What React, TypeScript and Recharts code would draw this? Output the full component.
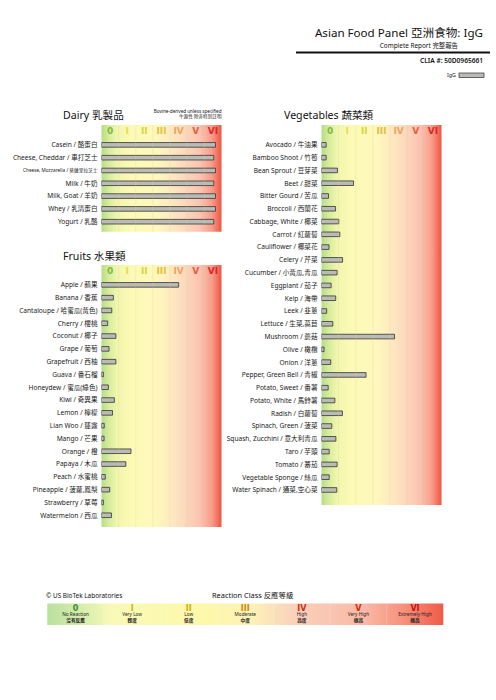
import React from 'react';
import { BarChart, Bar, XAxis, YAxis, ReferenceArea, ReferenceLine } from 'recharts';

const FONT = "'Noto Sans', 'Noto Sans CJK TC', sans-serif";
const NUM_FONT = "'DejaVu Sans', 'Noto Sans', sans-serif";

const classLabels = ['0', 'I', 'II', 'III', 'IV', 'V', 'VI'];
const classColors = ['#7cbc3c', '#e4df4c', '#d8d43e', '#e0c03c', '#eea25e', '#e4603a', '#e02428'];
const classTicks = [0.5, 1.5, 2.5, 3.5, 4.5, 5.5, 6.5];

const legendEnglish = ['No Reaction', 'Very Low', 'Low', 'Moderate', 'High', 'Very High', 'Extremely High'];
const legendChinese = ['沒有反應', '輕度', '低度', '中度', '高度', '極高', '極高'];
const legendNumColors = ['#3a8f1e', '#c9b51c', '#cfae0a', '#d08a0a', '#cf2a12', '#cf2a12', '#c81010'];

const dairyFoods = [
  'Casein / 酪蛋白',
  'Cheese, Cheddar / 車打芝士',
  'Cheese, Mozzarella / 莫薩里拉芝士',
  'Milk / 牛奶',
  'Milk, Goat / 羊奶',
  'Whey / 乳清蛋白',
  'Yogurt / 乳酪',
];
const dairyValues = [6.65, 6.55, 6.65, 6.55, 6.65, 6.65, 6.55];

const fruitFoods = [
  'Apple / 蘋果',
  'Banana / 香蕉',
  'Cantaloupe / 哈蜜瓜(黃色)',
  'Cherry / 櫻桃',
  'Coconut / 椰子',
  'Grape / 葡萄',
  'Grapefruit / 西柚',
  'Guava / 番石榴',
  'Honeydew / 蜜瓜(綠色)',
  'Kiwi / 奇異果',
  'Lemon / 檸檬',
  'Lian Woo / 蓮霧',
  'Mango / 芒果',
  'Orange / 橙',
  'Papaya / 木瓜',
  'Peach / 水蜜桃',
  'Pineapple / 菠蘿,鳳梨',
  'Strawberry / 草莓',
  'Watermelon / 西瓜',
];
const fruitValues = [4.5, 0.69, 0.6, 0.36, 0.84, 0.44, 0.84, 0.11, 0.4, 0.75, 0.64, 0.16, 0.15, 1.72, 1.42, 0.22, 0.48, 0.11, 0.58];

const vegFoods = [
  'Avocado / 牛油果',
  'Bamboo Shoot / 竹筍',
  'Bean Sprout / 豆芽菜',
  'Beet / 甜菜',
  'Bitter Gourd / 苦瓜',
  'Broccoli / 西蘭花',
  'Cabbage, White / 椰菜',
  'Carrot / 紅蘿蔔',
  'Cauliflower / 椰菜花',
  'Celery / 芹菜',
  'Cucumber / 小黃瓜,青瓜',
  'Eggplant / 茄子',
  'Kelp / 海帶',
  'Leek / 韭蔥',
  'Lettuce / 生菜,萵苣',
  'Mushroom / 蘑菇',
  'Olive / 橄欖',
  'Onion / 洋蔥',
  'Pepper, Green Bell / 青椒',
  'Potato, Sweet / 番薯',
  'Potato, White / 馬鈴薯',
  'Radish / 白蘿蔔',
  'Spinach, Green / 菠菜',
  'Squash, Zucchini / 意大利青瓜',
  'Taro / 芋頭',
  'Tomato / 蕃茄',
  'Vegetable Sponge / 絲瓜',
  'Water Spinach / 通菜,空心菜',
];
const vegValues = [0.27, 0.27, 0.93, 1.87, 0.41, 0.82, 1.01, 1.07, 0.44, 1.23, 0.91, 0.56, 0.83, 0.3, 0.66, 4.26, 0.15, 0.54, 2.6, 0.39, 0.78, 1.22, 0.6, 0.84, 0.45, 0.91, 0.45, 0.89];

const gradStops: [string, string][] = [
  ['0%', '#b5dd88'],
  ['6%', '#d6ec9c'],
  ['13%', '#f1f6ad'],
  ['25%', '#fcfab6'],
  ['45%', '#fff8bc'],
  ['57%', '#fdebc0'],
  ['70%', '#fcd8bd'],
  ['82%', '#fbc3b1'],
  ['92%', '#f89c8a'],
  ['100%', '#ee5440'],
];

const ClassTick = (props: any) => {
  const { x, y, payload } = props;
  const i = Math.floor(payload.value);
  return (
    <text x={x} y={y + 9} textAnchor="middle" fontFamily={NUM_FONT} fontSize={9} fontWeight={700} fill={classColors[i]}>
      {classLabels[i]}
    </text>
  );
};

const makeFoodTick = (foods: string[]) => (props: any) => {
  const { x, y, payload } = props;
  const label = foods[payload.value];
  if (label === undefined) return null;
  const small = label.startsWith('Cheese, Mozz');
  return (
    <text x={x} y={y} dy={small ? 1.8 : 2.3} textAnchor="end" fontFamily={FONT} fontSize={small ? 4.7 : 6.6} fill="#1a1a1a">
      {label}
    </text>
  );
};

function Panel(props: {
  id: string;
  foods: string[];
  values: number[];
  left: number;
  top: number;
  labelWidth: number;
  height: number;
  domainY: [number, number];
}) {
  const { id, foods, values, left, top, labelWidth, height, domainY } = props;
  const data = foods.map((f, i) => ({ idx: i, name: f, value: values[i] }));
  const idxTicks = foods.map((_, i) => i);
  const FoodTick = makeFoodTick(foods);
  return (
    <div style={{ position: 'absolute', left, top: top - 1 }}>
      <BarChart
        layout="vertical"
        width={labelWidth + 120}
        height={height + 1}
        data={data}
        margin={{ top: 0, right: 0, bottom: 0, left: 0 }}
      >
        <defs>
          <linearGradient id={id} x1="0" y1="0" x2="1" y2="0">
            {gradStops.map(([o, c]) => (
              <stop key={o} offset={o} stopColor={c} />
            ))}
          </linearGradient>
        </defs>
        <ReferenceArea x1={0} x2={7} fill={`url(#${id})`} fillOpacity={1} stroke="none" ifOverflow="visible" />
        {[1, 2, 3, 4, 5, 6].map((v) => (
          <ReferenceLine key={v} x={v} stroke="#d9cf8a" strokeOpacity={0.45} strokeWidth={0.6} />
        ))}
        <Bar
          dataKey="value"
          barSize={4.6}
          fill="#bbbbb6"
          stroke="#333"
          strokeWidth={0.8}
          isAnimationActive={false}
        />
        <YAxis
          type="number"
          dataKey="idx"
          domain={domainY}
          ticks={idxTicks}
          interval={0}
          width={labelWidth}
          tick={<FoodTick />}
          axisLine={false}
          tickLine={false}
          tickSize={0}
          tickMargin={4}
          allowDataOverflow
        />
        <XAxis
          type="number"
          domain={[0, 7]}
          orientation="top"
          height={1}
          ticks={classTicks}
          interval={0}
          tick={<ClassTick />}
          axisLine={false}
          tickLine={false}
          tickSize={0}
          tickMargin={0}
          allowDataOverflow
        />
      </BarChart>
    </div>
  );
}

export default function App() {
  const legendX = 47.3;
  const cellW = (443.3 - 47.3) / 7;
  return (
    <div style={{ position: 'absolute', left: 0, top: 0, width: 496, height: 700, background: '#fff', fontFamily: FONT, overflow: 'hidden' }}>
      <svg width={496} height={700} style={{ position: 'absolute', left: 0, top: 0 }}>
        <defs>
          <linearGradient id="legendGrad" x1="0" y1="0" x2="1" y2="0">
            <stop offset="0%" stopColor="#b9e0a0" />
            <stop offset="12%" stopColor="#e4f2b0" />
            <stop offset="16%" stopColor="#f9f9b8" />
            <stop offset="40%" stopColor="#fdf8aa" />
            <stop offset="52%" stopColor="#fdf1b8" />
            <stop offset="62%" stopColor="#fad2bc" />
            <stop offset="80%" stopColor="#f9b9a6" />
            <stop offset="90%" stopColor="#f6917c" />
            <stop offset="100%" stopColor="#f05a48" />
          </linearGradient>
        </defs>
        {/* Header */}
        <text x={483} y={37} textAnchor="end" fontSize={11.6} fill="#111">Asian Food Panel 亞洲食物: IgG</text>
        <text x={458} y={48} textAnchor="end" fontSize={6.4} fill="#111">Complete Report 完整報告</text>
        <line x1={296} y1={52.5} x2={490} y2={52.5} stroke="#111" strokeWidth={1.8} />
        <text x={483} y={63} textAnchor="end" fontSize={6.6} fontWeight={600} fill="#111">CLIA #: 50D0965661</text>
        <text x={456} y={77} textAnchor="end" fontSize={5.4} fill="#222">IgG</text>
        <rect x={459} y={73} width={25} height={4.6} fill="#bbbbb6" stroke="#333" strokeWidth={0.7} />

        {/* Section titles */}
        <text x={63} y={119} fontSize={10.6} fill="#111">Dairy 乳製品</text>
        <text x={221.5} y={112.5} textAnchor="end" fontSize={4.6} fill="#111">Bovine-derived unless specified</text>
        <text x={221.5} y={118} textAnchor="end" fontSize={4.6} fill="#111">牛源性 除非特別註明</text>
        <text x={63} y={259.5} fontSize={10.6} fill="#111">Fruits 水果類</text>
        <text x={284} y={119} fontSize={10.6} fill="#111">Vegetables 蔬菜類</text>

        {/* Footer legend */}
        <text x={46} y={597.5} fontSize={6.4} fill="#111">© US BioTek Laboratories</text>
        <text x={212} y={598} fontSize={7.4} fill="#111">Reaction Class 反應等級</text>
        <rect x={legendX} y={603.5} width={cellW * 7} height={21.5} fill="url(#legendGrad)" />
        {[1, 2, 3, 4, 5, 6].map((i) => (
          <line key={i} x1={legendX + cellW * i} y1={603.5} x2={legendX + cellW * i} y2={625} stroke="#ffffff" strokeOpacity={0.35} strokeWidth={0.6} />
        ))}
        {classLabels.map((c, i) => {
          const cx = legendX + cellW * (i + 0.5);
          return (
            <g key={c}>
              <text x={cx} y={610.6} textAnchor="middle" fontFamily={NUM_FONT} fontSize={8} fontWeight={700} fill={legendNumColors[i]}>{c}</text>
              <text x={cx} y={616.4} textAnchor="middle" fontSize={4.7} fill="#222">{legendEnglish[i]}</text>
              <text x={cx} y={622} textAnchor="middle" fontSize={4.7} fontWeight={700} fill="#222">{legendChinese[i]}</text>
            </g>
          );
        })}
      </svg>

      <Panel id="gDairy" foods={dairyFoods} values={dairyValues} left={0} top={125} labelWidth={101.5} height={106.8} domainY={[-1.56, 6.78]} />
      <Panel id="gFruit" foods={fruitFoods} values={fruitValues} left={0} top={265} labelWidth={101.5} height={262} domainY={[-1.56, 18.91]} />
      <Panel id="gVeg" foods={vegFoods} values={vegValues} left={200} top={125} labelWidth={121.5} height={380} domainY={[-1.56, 28.17]} />
    </div>
  );
}
